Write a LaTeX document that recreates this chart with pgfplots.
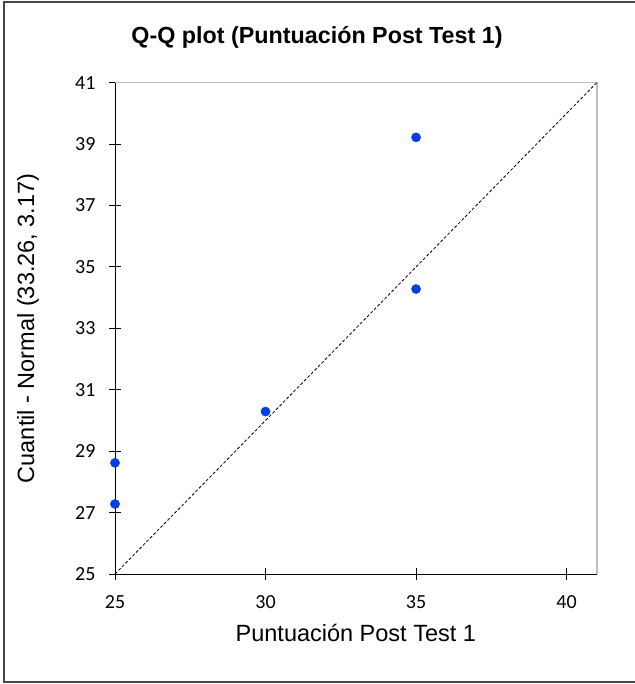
\documentclass[border=0pt]{standalone}
\usepackage{fontspec}
\setmainfont{Liberation Sans}
\newfontfamily\carlito{Carlito}
\usepackage{pgfplots}
\pgfplotsset{compat=1.18}
\definecolor{ptblue}{RGB}{0,62,230}
\definecolor{framegray}{RGB}{70,70,70}
\definecolor{axgray}{RGB}{191,191,191}
\begin{document}
\begin{tikzpicture}
\useasboundingbox (0,0) rectangle (634pt,684pt);
\fill[white] (0,0) rectangle (634pt,684pt);
\draw[line width=1.6pt, framegray] (4pt,2pt) rectangle (645pt,682pt);
\node[anchor=base, font=\fontsize{23.3}{26}\selectfont\bfseries] at (317pt,640.7pt) {Q-Q plot (Puntuación Post Test 1)};
\begin{axis}[
  at={(115pt,110pt)}, anchor=south west,
  scale only axis, width=481.7pt, height=491.3pt,
  xmin=25, xmax=41, ymin=25, ymax=41,
  axis x line*=bottom, axis y line*=left,
  axis line style={black, line width=0.9pt},
  xtick={25,30,35,40}, ytick={25,27,...,41},
  tick align=center, major tick length=12pt,
  tick style={black, line width=0.9pt},
  /pgf/number format/assume math mode=true,
  ticklabel style={font=\carlito\fontsize{20}{20}\selectfont},
  yticklabel style={xshift=-10pt},
  xticklabel style={yshift=-12pt},
  xlabel={Puntuación Post Test 1},
  ylabel={Cuantil - Normal (33.26, 3.17)},
  label style={font=\fontsize{23.5}{26}\selectfont},
  xlabel style={at={(axis description cs:0.5,0)}, anchor=base, yshift=-67pt},
  ylabel style={at={(axis description cs:0,0.5)}, anchor=center, yshift=87pt},
  clip=false,
]
\draw[axgray, line width=1.6pt] (rel axis cs:0,1) -- (rel axis cs:1,1) -- (rel axis cs:1,0);
\addplot[black, line width=0.8pt, dash pattern=on 3pt off 2pt] coordinates {(25,25) (41,41)};
\addplot[only marks, mark=*, mark size=4.6pt, ptblue, mark options={draw=ptblue, fill=ptblue}] coordinates {
(25,27.28) (25,28.62) (30,30.29) (35,34.28) (35,39.22)
};
\end{axis}
\end{tikzpicture}
\end{document}
